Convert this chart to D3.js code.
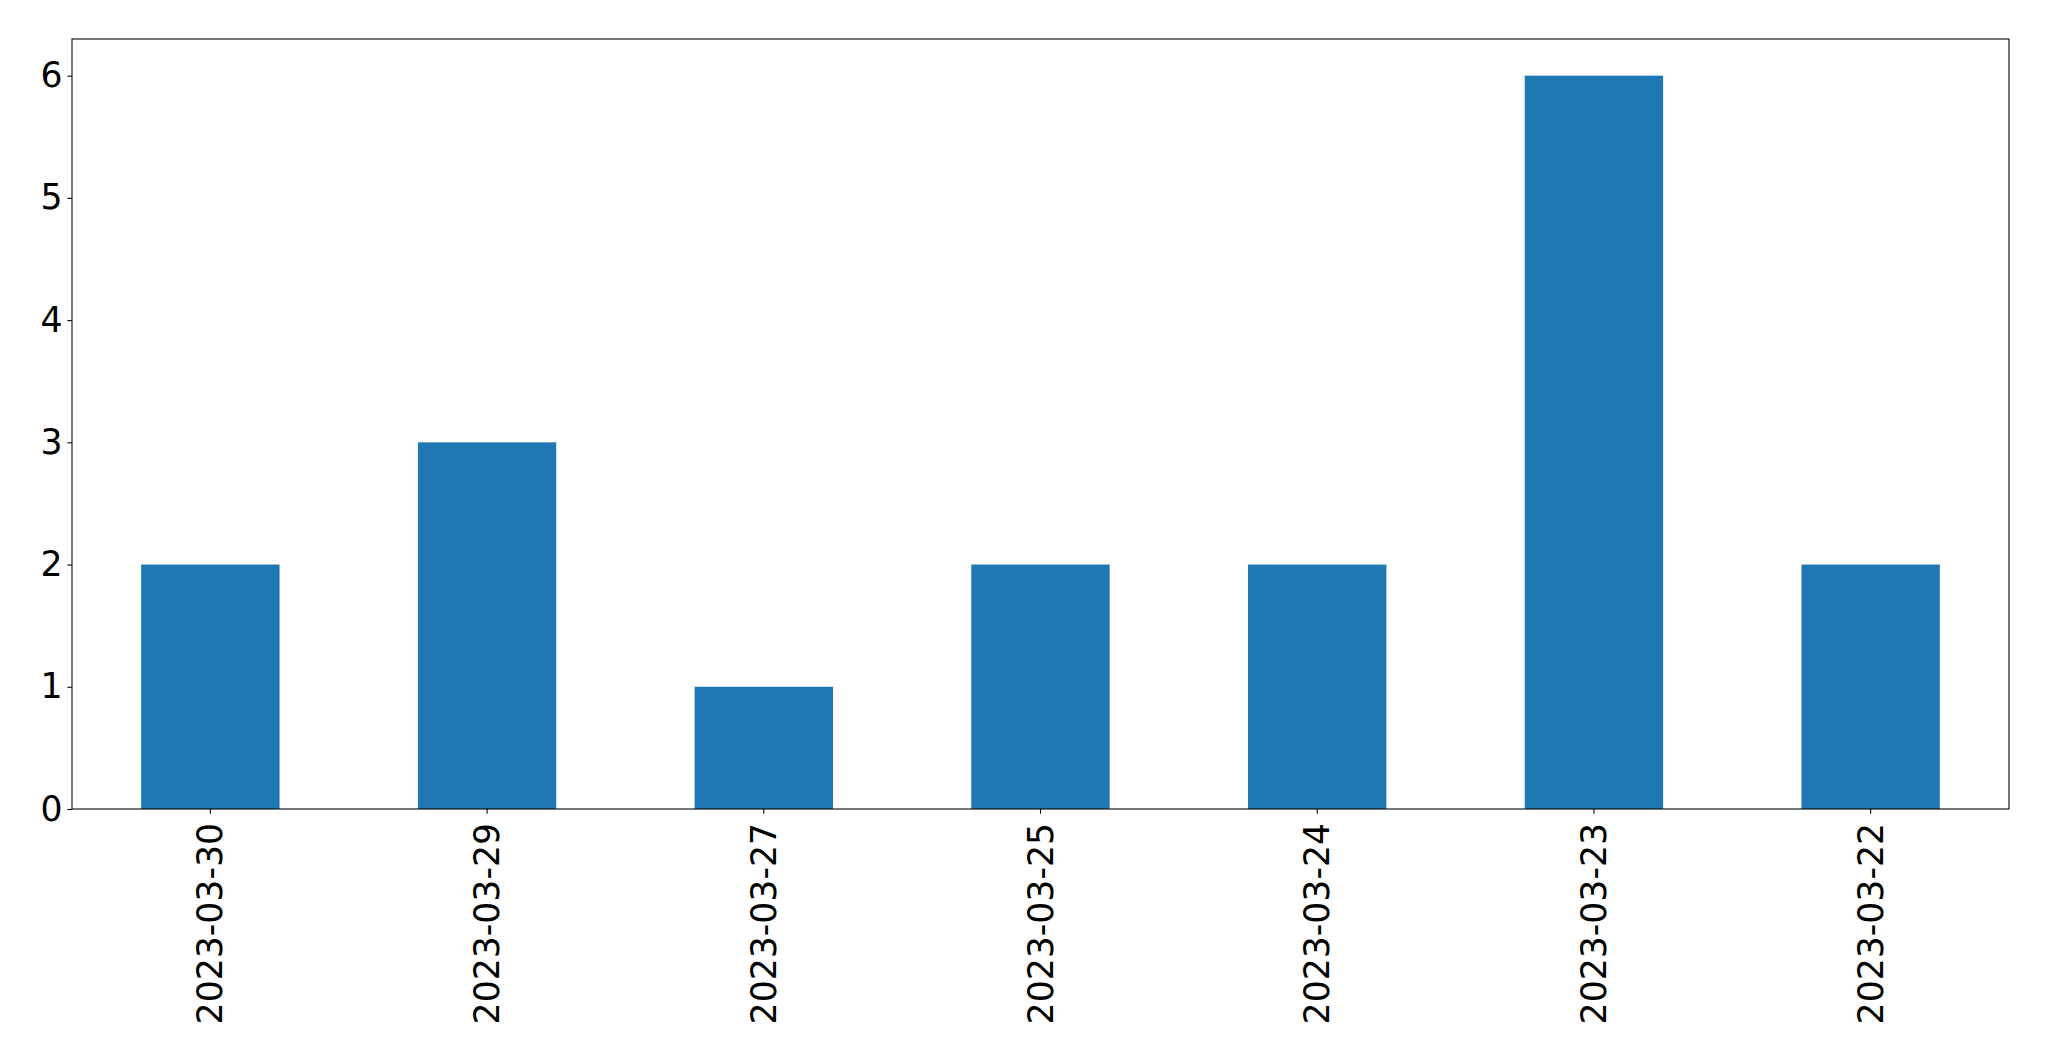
<!DOCTYPE html>
<html>
<head>
<meta charset="utf-8">
<script src="https://cdn.jsdelivr.net/npm/d3@7"></script>
<style>
  html, body { margin: 0; padding: 0; background: #fff; }
  svg { display: block; }
</style>
</head>
<body>
<svg id="chart" width="2049" height="1061"></svg>
<script>
const categories = ["2023-03-30", "2023-03-29", "2023-03-27", "2023-03-25", "2023-03-24", "2023-03-23", "2023-03-22"];
const values = [2, 3, 1, 2, 2, 6, 2];
const yTicks = [0, 1, 2, 3, 4, 5, 6];

const W = 2049, H = 1061;
const margin = { left: 72, right: 40, top: 39, bottom: 252 };
const x0 = margin.left, x1 = W - margin.right;
const y0 = H - margin.bottom, y1 = margin.top;

const svg = d3.select("#chart");
const fontSize = 34.67;
const font = "DejaVu Sans";

const x = d3.scaleBand().domain(categories).range([x0, x1]).paddingInner(0.5).paddingOuter(0.25);
const y = d3.scaleLinear().domain([0, 6.3]).range([y0, y1]);

// Bars
svg.append("g").selectAll("rect")
  .data(categories.map((c, i) => ({ c, v: values[i] })))
  .join("rect")
  .attr("x", d => x(d.c))
  .attr("width", x.bandwidth())
  .attr("y", d => y(d.v))
  .attr("height", d => y(0) - y(d.v))
  .attr("fill", "#1f77b4");

// Y axis
const yAxis = d3.axisLeft(y).tickValues(yTicks).tickFormat(d3.format("d")).tickSize(4.67).tickPadding(4.67);
const gy = svg.append("g").attr("transform", `translate(${x0},0)`).call(yAxis);
gy.select(".domain").remove();
gy.selectAll(".tick line").attr("stroke", "#000").attr("stroke-width", 1.07);
gy.selectAll(".tick text")
  .attr("font-family", font).attr("font-size", fontSize).attr("fill", "#000");

// X axis
const xAxis = d3.axisBottom(x).tickSize(4.67).tickPadding(0);
const gx = svg.append("g").attr("transform", `translate(0,${y0})`).call(xAxis);
gx.select(".domain").remove();
gx.selectAll(".tick line").attr("stroke", "#000").attr("stroke-width", 1.07);
gx.selectAll(".tick text")
  .attr("font-family", font).attr("font-size", fontSize).attr("fill", "#000")
  .attr("text-anchor", "end")
  .attr("transform", "translate(0,14) rotate(-90)")
  .attr("x", 0).attr("y", 0)
  .attr("dy", "0.35em");

// Frame (spines)
svg.append("rect")
  .attr("x", x0).attr("y", y1)
  .attr("width", x1 - x0).attr("height", y0 - y1)
  .attr("fill", "none").attr("stroke", "#000").attr("stroke-width", 1.07);
</script>
</body>
</html>
